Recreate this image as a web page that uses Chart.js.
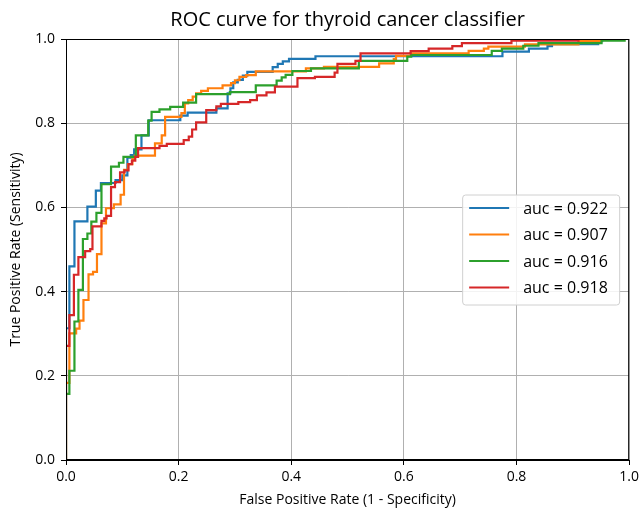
<!DOCTYPE html>
<html>
<head>
<meta charset="utf-8">
<title>ROC curve</title>
<script src="https://cdn.jsdelivr.net/npm/chart.js@4/dist/chart.umd.min.js"></script>
<style>
  html, body { margin: 0; padding: 0; background: #fff; }
</style>
</head>
<body>
<canvas id="roc" width="643" height="511"></canvas>
<script>
'use strict';

// ── Data: corners of each ROC step (fpr where the rise happens, tpr after it) ──

const chartTitle = 'ROC curve for thyroid cancer classifier';
const aucLabels = ['auc = 0.922', 'auc = 0.907', 'auc = 0.916', 'auc = 0.918'];
const colors    = ['#1f77b4', '#ff7f0e', '#2ca02c', '#d62728'];

const fpr1 = [0, 0, 0.006, 0.015, 0.038, 0.053, 0.062, 0.088, 0.100, 0.109, 0.115, 0.121, 0.134, 0.147,
  0.203, 0.216, 0.267, 0.287, 0.292, 0.297, 0.305, 0.314, 0.322, 0.367, 0.376, 0.385, 0.396, 0.443,
  0.775, 0.822, 0.855, 0.863, 0.945, 0.952, 1.0];
const tpr1 = [0, 0.313, 0.460, 0.567, 0.602, 0.640, 0.658, 0.665, 0.676, 0.718, 0.724, 0.738, 0.771, 0.807,
  0.818, 0.825, 0.835, 0.871, 0.883, 0.897, 0.903, 0.913, 0.922, 0.933, 0.941, 0.947, 0.953, 0.959,
  0.970, 0.977, 0.983, 0.988, 0.995, 1.0, 1.0];

const fpr2 = [0, 0, 0.006, 0.018, 0.024, 0.031, 0.040, 0.048, 0.055, 0.063, 0.071, 0.085, 0.097, 0.103,
  0.110, 0.118, 0.122, 0.158, 0.170, 0.176, 0.205, 0.211, 0.217, 0.225, 0.231, 0.240, 0.252, 0.278,
  0.293, 0.300, 0.308, 0.320, 0.337, 0.426, 0.458, 0.556, 0.582, 0.586, 0.612, 0.715, 0.742, 0.750,
  0.815, 0.910, 0.950, 1.0];
const tpr2 = [0, 0.183, 0.301, 0.312, 0.331, 0.380, 0.441, 0.447, 0.489, 0.562, 0.598, 0.607, 0.630, 0.689,
  0.703, 0.715, 0.723, 0.752, 0.771, 0.815, 0.824, 0.847, 0.855, 0.863, 0.871, 0.877, 0.883, 0.890,
  0.895, 0.902, 0.910, 0.914, 0.923, 0.930, 0.934, 0.942, 0.952, 0.960, 0.966, 0.972, 0.977, 0.982,
  0.987, 0.995, 1.0, 1.0];

const fpr3 = [0, 0, 0.006, 0.015, 0.022, 0.030, 0.038, 0.045, 0.054, 0.063, 0.080, 0.094, 0.102, 0.124,
  0.146, 0.152, 0.166, 0.185, 0.208, 0.231, 0.291, 0.337, 0.374, 0.383, 0.390, 0.402, 0.435, 0.520,
  0.606, 0.613, 0.756, 0.774, 0.812, 0.839, 0.951, 0.992, 1.0];
const tpr3 = [0, 0.157, 0.212, 0.329, 0.404, 0.525, 0.538, 0.566, 0.587, 0.655, 0.697, 0.706, 0.720, 0.771,
  0.806, 0.827, 0.833, 0.839, 0.849, 0.869, 0.874, 0.890, 0.901, 0.909, 0.915, 0.924, 0.930, 0.948,
  0.958, 0.962, 0.972, 0.977, 0.984, 0.990, 0.996, 1.0, 1.0];

const fpr4 = [0, 0, 0.006, 0.014, 0.022, 0.034, 0.043, 0.047, 0.063, 0.068, 0.072, 0.080, 0.087, 0.096,
  0.104, 0.111, 0.117, 0.123, 0.128, 0.166, 0.179, 0.209, 0.218, 0.224, 0.231, 0.249, 0.267, 0.275,
  0.306, 0.327, 0.339, 0.356, 0.371, 0.411, 0.442, 0.477, 0.482, 0.514, 0.523, 0.612, 0.644, 0.686,
  0.703, 0.791, 0.910, 1.0];
const tpr4 = [0, 0.271, 0.344, 0.440, 0.482, 0.496, 0.501, 0.555, 0.568, 0.574, 0.580, 0.648, 0.660, 0.683,
  0.688, 0.703, 0.711, 0.720, 0.741, 0.746, 0.751, 0.760, 0.768, 0.785, 0.802, 0.831, 0.840, 0.846,
  0.850, 0.855, 0.866, 0.873, 0.887, 0.907, 0.910, 0.920, 0.941, 0.948, 0.966, 0.971, 0.977, 0.983,
  0.990, 0.996, 1.0, 1.0];

const curves = [[fpr1, tpr1], [fpr2, tpr2], [fpr3, tpr3], [fpr4, tpr4]];

const FONT = "'Open Sans', 'DejaVu Sans', sans-serif";

// ── Plugins: title over the axes, full frame, legend inside (center right) ──

const axesTitle = {
  id: 'axesTitle',
  afterDraw(chart) {
    const { ctx, chartArea: a } = chart;
    ctx.save();
    ctx.font = '20px ' + FONT;
    ctx.fillStyle = '#000';
    ctx.textAlign = 'center';
    ctx.textBaseline = 'middle';
    ctx.fillText(chartTitle, (a.left + a.right) / 2, a.top - 19);
    ctx.restore();
  }
};

const frameBox = {
  id: 'frameBox',
  afterDatasetsDraw(chart) {
    const { ctx, chartArea: a } = chart;
    ctx.save();
    ctx.strokeStyle = '#000';
    ctx.lineWidth = 1;
    ctx.strokeRect(a.left + 0.5, a.top + 0.5, a.right - a.left - 1, a.bottom - a.top - 1);
    ctx.restore();
  }
};

const insideLegend = {
  id: 'insideLegend',
  afterDraw(chart) {
    const { ctx, chartArea: a } = chart;
    const sets = chart.data.datasets;
    const rowH = 26.5, w = 157, h = 110;
    const x0 = a.right - 10 - w;
    const y0 = (a.top + a.bottom) / 2 - h / 2;

    ctx.save();
    ctx.beginPath();
    ctx.roundRect(x0 + 0.5, y0 + 0.5, w, h, 3);
    ctx.fillStyle = 'rgba(255,255,255,0.85)';
    ctx.fill();
    ctx.strokeStyle = '#d0d0d0';
    ctx.lineWidth = 1;
    ctx.stroke();

    ctx.font = '16px ' + FONT;
    ctx.textBaseline = 'middle';
    ctx.fillStyle = '#000';
    sets.forEach((ds, i) => {
      const y = y0 + 13.5 + i * rowH;
      ctx.beginPath();
      ctx.moveTo(x0 + 7, y);
      ctx.lineTo(x0 + 47, y);
      ctx.strokeStyle = ds.borderColor;
      ctx.lineWidth = 2.2;
      ctx.stroke();
      ctx.fillText(ds.label, x0 + 61, y + 1);
    });
    ctx.restore();
  }
};

// ── Chart ────────────────────────────────────────────────────────────────────

const datasets = curves.map(([fx, ty], i) => ({
  label: aucLabels[i],
  data: fx.map((x, k) => ({ x, y: ty[k] })),
  borderColor: colors[i],
  backgroundColor: colors[i],
  borderWidth: 2.2,
  showLine: true,
  stepped: 'before',
  pointRadius: 0,
  fill: false,
  order: curves.length - i,   // later curves on top, like matplotlib
}));

const axis = (titleText, isY) => ({
  type: 'linear',
  min: 0,
  max: 1,
  ticks: {
    stepSize: 0.2,
    color: '#000',
    font: { family: FONT, size: 14 },
    padding: isY ? 6 : 4,
    callback: v => v.toFixed(1),
  },
  grid: {
    color: '#b0b0b0',
    lineWidth: 1,
    tickColor: '#000',
    tickLength: 5,
  },
  border: { color: '#000', width: 1 },
  title: {
    display: true,
    text: titleText,
    color: '#000',
    font: { family: FONT, size: 14 },
    padding: isY ? { top: 8, bottom: 0 } : { top: 0, bottom: 3 },
  },
  afterFit: s => { if (isY) s.width = 66; else s.height = 51; },
});

new Chart(document.getElementById('roc'), {
  type: 'scatter',
  data: { datasets },
  options: {
    responsive: false,
    animation: false,
    layout: { padding: { left: 0, right: 12, top: 39, bottom: 0 } },
    plugins: {
      legend: { display: false },
      tooltip: { enabled: false },
      title: { display: false },
    },
    scales: {
      x: axis('False Positive Rate (1 - Specificity)', false),
      y: axis('True Positive Rate (Sensitivity)', true),
    },
  },
  plugins: [frameBox, insideLegend, axesTitle],
});
</script>
</body>
</html>
